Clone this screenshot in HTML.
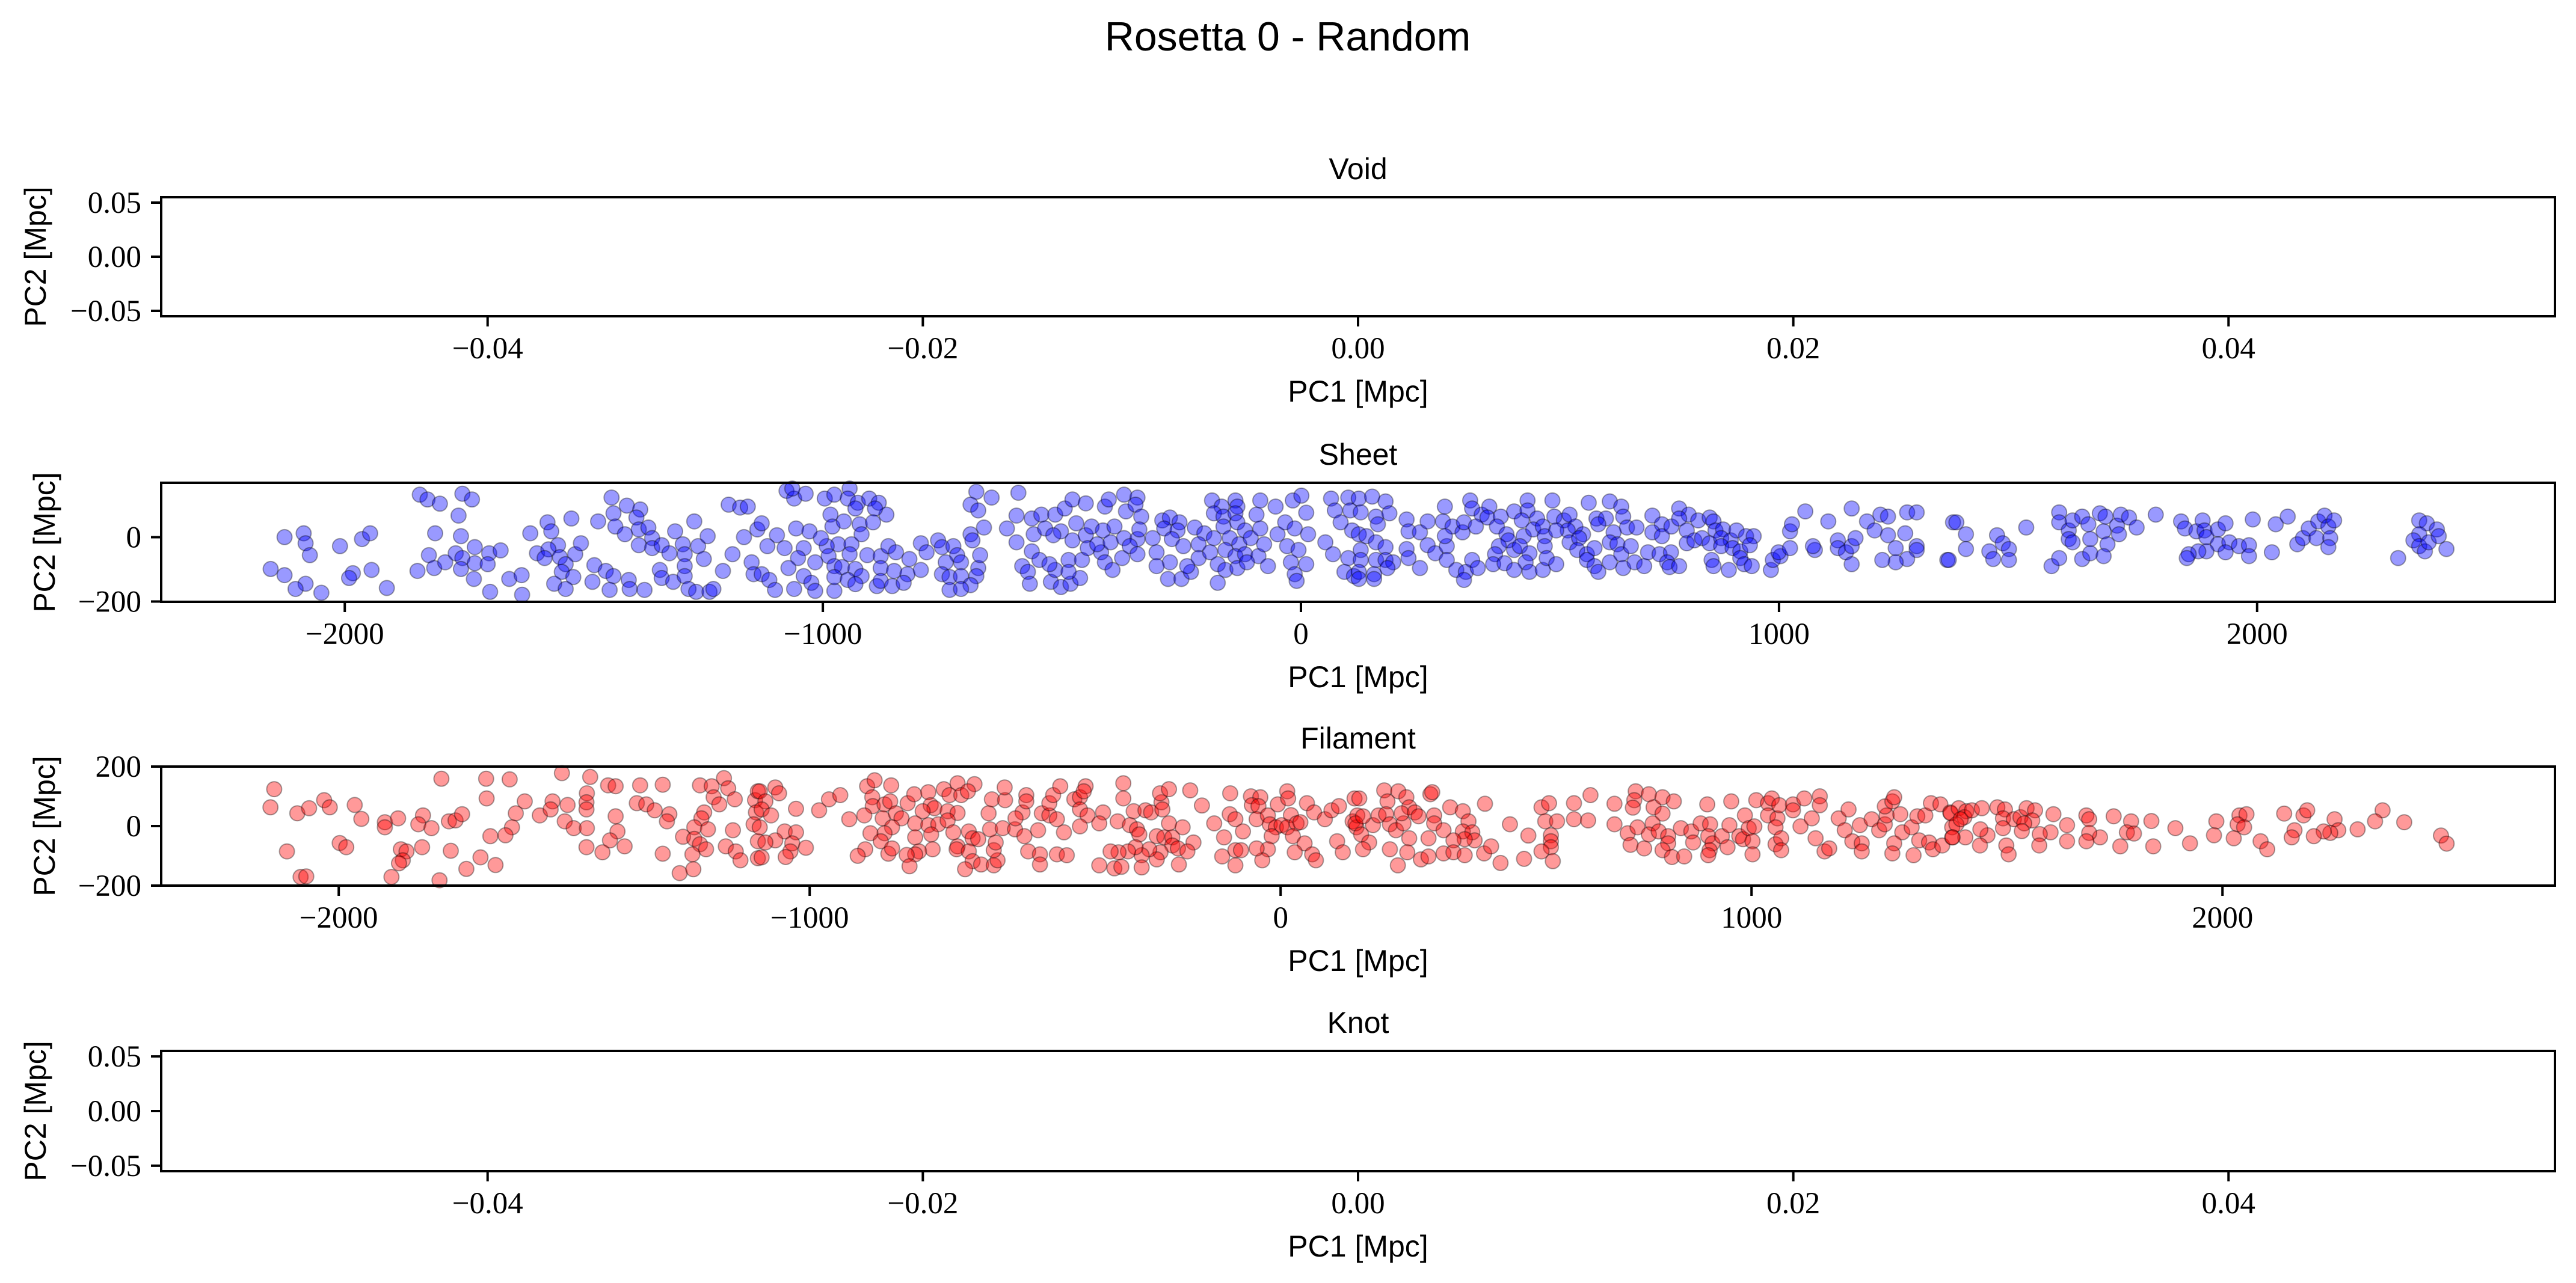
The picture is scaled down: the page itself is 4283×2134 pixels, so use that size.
<!DOCTYPE html>
<html><head><meta charset="utf-8"><style>
html,body{margin:0;padding:0;background:#fff;}
svg{display:block;}
.tick{font-family:"Liberation Serif","DejaVu Serif",serif;font-size:51px;fill:#000;}
.lab{font-family:"Liberation Sans","DejaVu Sans",sans-serif;font-size:50px;fill:#000;}
.ttl{font-family:"Liberation Sans","DejaVu Sans",sans-serif;font-size:50px;fill:#000;}
</style></head><body>
<svg id="fig" width="4283" height="2134" viewBox="0 0 4283 2134" xmlns="http://www.w3.org/2000/svg">
<rect width="4283" height="2134" fill="#fff"/>
<text x="2141" y="84" text-anchor="middle" font-family="Liberation Sans, DejaVu Sans, sans-serif" font-size="68">Rosetta 0 - Random</text>
</svg>
<script>
// ---- data ----
const sheetX = [-2126,-2086,-2082,-2073,-2155,-2126,-2082,-2103,-2049,-2010,-1964,-1947,-1983,-1991,-1944,-1912,-1843,-1827,-1801,-1754,-1734,-1762,-1811,-1757,-1824,-1848,-1813,-1790,-1768,-1754,-1728,-1698,-1674,-1728,-1701,-1757,-1730,-1656,-1630,-1696,-1629,-1612,-1576,-1568,-1526,-1470,-1554,-1598,-1574,-1582,-1550,-1518,-1506,-1538,-1546,-1522,-1562,-1538,-1478,-1454,-1438,-1482,-1446,-1406,-1404,-1373,-1442,-1410,-1382,-1390,-1438,-1434,-1414,-1385,-1365,-1357,-1385,-1357,-1337,-1321,-1309,-1269,-1293,-1289,-1261,-1241,-1249,-1289,-1341,-1337,-1313,-1289,-1281,-1265,-1237,-1229,-1209,-1197,-1173,-1157,-1189,-1165,-1137,-1149,-1145,
-1076,-1060,-1036,-1064,-996,-976,-944,-948,-927,-903,-883,-867,-891,-984,-932,-1128,-1096,-1116,-1056,-1028,-1080,-1040,-1052,-980,-956,-923,-895,-919,-968,-940,-992,-1004,-988,-944,-907,-879,-863,-847,-819,-1016,-1072,-976,-960,-932,-879,-851,-823,-795,-1128,-1112,-1100,-1060,-1040,-1024,-1016,-976,-976,-948,-919,-932,-887,-879,-855,-831,-795,-783,-759,-751,-727,-719,-711,-743,-751,-735,-711,-675,-679,-691,-735,-711,-671,-691,-687,-663,-679,-647,-691,-675,-591,-615,-595,-595,-563,-543,-559,-535,-563,-547,-583,-571,-567,-523,-502,-482,-462,-514,-486,-458,-486,-526,-514,-494,-478,-450,-470,-502,-518,-478,-450,-438,-446,-418,-426,-414,-390,-410,-402,-370,-342,-366,-346,-334,-410,-394,-374,-398,-370,-342,-338,-358,-342,-310,-302,-290,-274,-254,-286,-258,-270,-246,-274,-302,-278,-250,-230,-238,-222,-202,-182,-214,-214,-190,-186,-166,-137,-133,-182,-162,-137,-162,-133,-149,-129,-117,-105,-158,-137,-117,-89,-69,-174,-158,-133,-113,-174,-85,-53,-93,-77,-85,-49,-33,-17,1,11,-13,15,-29,-5,-21,11,-13,-9,51,63,99,71,103,83,107,67,99,91,111,
121,149,177,125,157,185,161,121,137,157,177,125,125,157,177,193,181,121,153,121,153,221,225,249,265,221,225,249,265,281,305,305,325,345,341,358,370,301,297,317,301,338,341,354,358,378,394,390,366,418,410,446,474,474,462,494,430,434,466,486,506,510,526,530,550,562,574,558,534,590,414,406,402,426,446,458,478,470,446,478,506,510,514,534,562,582,578,598,602,618,638,622,646,670,674,682,702,654,646,662,614,598,614,622,646,670,690,674,698,718,726,750,774,766,771,791,735,755,735,755,775,791,811,791,807,807,823,831,855,863,867,883,839,855,879,899,911,879,903,919,919,859,863,895,927,943,931,947,939,983,987,1003,999,1023,1023,1027,1055,1075,1071,1103,1123,1123,1140,1152,1160,1152,1152,1184,1200,1212,1228,1228,1244,1264,1268,1288,1288,1288,1268,1244,1216,1352,1364,
1371,1391,1391,1355,1440,1448,1456,1468,1481,1481,1517,1586,1586,1570,1586,1606,1606,1614,1614,1634,1647,1651,1634,1651,1671,1679,1683,1687,1679,1707,1715,1711,1732,1748,1788,1841,1849,1873,1886,1890,1894,1918,1934,1918,1942,1962,1983,1983,1934,1894,1877,1857,1853,1991,2031,2039,2064,2084,2096,2108,2124,2128,2141,2149,2161,2153,2149,2295,2339,2355,2339,2327,2339,2351,2359,2376,2380,2396];
const sheetY = [0,12,-19,-56,-99,-118,-145,-161,-173,-28,-6,12,-112,-127,-102,-158,132,117,104,135,117,67,12,3,-56,-105,-96,-78,-50,-65,-31,-50,-41,-81,-84,-99,-130,-130,-118,-170,-179,12,46,18,58,49,-25,-50,-38,-65,-62,-53,-19,-84,-108,-124,-145,-161,-87,-105,-121,-139,-164,-133,-161,-164,123,98,86,61,74,33,9,24,30,-3,-25,-34,-25,-50,18,49,-22,-53,-28,3,-68,-90,-102,-127,-139,-121,-161,-170,-170,-161,-105,101,92,95,-53,0,24,-78,-115,
144,120,135,151,120,132,151,120,107,120,107,70,89,70,89,43,6,-28,27,18,-34,-34,-65,33,49,40,46,9,-22,-22,-28,-3,-59,-53,-56,-59,-28,-47,-68,-78,-96,-90,-93,-99,-96,-105,-115,-102,-115,-133,-164,-161,-121,-142,-167,-167,-124,-133,-121,-146,-152,-136,-152,-142,-19,-47,-10,-31,-28,-56,-78,-78,-115,-124,-121,-96,-121,-149,-164,-161,-56,9,-10,30,141,123,101,83,138,27,67,-16,58,70,9,27,-44,-71,-90,-108,-145,-139,-155,-145,-127,-102,-71,-71,-108,-84,70,89,117,105,43,18,6,-10,6,33,-34,-47,-22,21,33,95,117,132,123,80,101,64,-78,-102,-65,-16,-3,-6,24,-28,-53,-3,-47,52,61,46,27,21,-6,-28,-78,-90,-130,-130,-108,-90,30,12,-3,-22,-65,-47,114,95,114,95,74,64,74,33,46,-3,-22,21,-3,-40,-59,-53,-59,-90,-84,-102,-96,-78,-142,114,95,70,-22,27,9,46,114,129,76,27,9,-28,-40,-78,-84,-115,-136,-16,120,123,83,83,46,21,-53,-65,-108,-121,
120,126,111,77,64,74,40,9,3,-16,-31,-40,-71,-71,-71,-78,-96,-108,-115,-130,-130,55,18,15,49,-37,-65,-96,-25,-50,-28,-71,-102,-108,-133,-71,-96,95,49,33,3,15,46,114,89,70,95,61,33,64,33,80,114,83,52,58,9,-10,3,24,33,3,114,64,52,70,33,21,21,9,-28,-53,-84,-81,-40,-28,-50,-78,-102,-108,-102,-28,-65,-84,-16,-3,-40,-53,107,58,58,40,111,95,64,30,30,15,-16,-22,-34,-71,-90,-108,-78,-53,-28,-96,-78,-90,-47,-53,-47,-78,-93,-90,67,40,15,3,33,89,70,58,21,-19,-10,52,61,49,21,24,-3,-19,-3,-10,21,-28,-34,-44,-65,-71,-90,-102,-84,-90,3,3,-25,-102,-71,-59,-47,-34,18,40,80,-40,-28,49,-10,-34,-47,-28,-3,89,-84,49,21,70,64,6,-34,12,77,77,-28,-40,-68,-78,-71,-71,46,
46,9,-37,-71,-44,-68,6,-19,-37,-71,30,77,46,-90,-65,21,-6,-16,52,64,40,-6,-68,-50,74,18,64,-22,-59,36,70,9,61,30,70,49,27,18,52,21,0,24,43,-22,-16,-28,-25,-59,-47,-44,-44,-53,-65,55,-47,40,64,-22,-3,27,-3,49,67,33,52,-3,-31,-65,52,43,9,-10,-28,-44,-16,24,3,-37];
const filamentX = [-2137,-2145,-2088,-2063,-2031,-2019,-1966,-1952,-1902,-1902,-1874,-1821,-1831,-1803,-1766,-1752,-1738,-1782,-1687,-1637,-1526,-1466,-1686,-1605,-1624,-1632,-1646,-1678,-1573,-1546,-1550,-1514,-1473,-1474,-1474,-1520,-1501,-1473,-1428,-1412,-1360,-1312,-1412,-1408,-1424,-1393,-1474,-1440,-1367,-1347,-1329,-1298,-1303,-1233,-1208,-1182,-1173,-1204,-1192,-1159,-1224,-1230,-1245,-1216,-1269,-1245,-1233,-1220,-1249,-1163,-1178,-1157,-1147,-1276,-1247,-1312,-1116,-1110,-1114,-1119,-1110,-1110,-2110,-1998,-1984,-2081,-2069,-1888,-1868,-1856,-1864,-1872,-1823,-1786,-1762,-1729,-1699,-1667,
-1106,-1073,-1065,-1094,-1102,-1082,-1106,-1029,-980,-959,-935,-916,-1053,-1029,-1073,-1094,-1037,-1008,-1041,-1102,-1051,-878,-862,-827,-867,-866,-884,-841,-829,-845,-817,-805,-792,-778,-748,-715,-686,-650,-703,-678,-664,-743,-735,-760,-707,-686,-776,-748,-727,-707,-825,-841,-871,-849,-776,-742,-695,-662,-654,-642,-686,-688,-739,-768,-776,-794,-833,-825,-882,-898,-788,-662,-654,-670,-636,-609,-601,-609,-605,-617,-590,-620,-613,-585,-586,-564,-544,-548,-563,-540,-540,-536,-511,-511,-475,-454,-515,-507,-491,-475,-491,-483,-468,-438,-426,-414,-418,-426,-410,-377,-385,-426,-460,-334,-334,-346,-312,-287,-275,-320,-305,-300,-253,-251,-256,-237,-192,-167,-237,-208,-263,-247,-230,-230,-218,-185,-198,-216,-255,-263,-279,-295,-295,-308,-324,-344,-361,-353,-338,-385,-141,-120,-124,-107,-108,-96,-80,-96,-84,-96,-63,-43,-61,-47,-51,-27,-6,14,16,22,-23,-10,2,14,34,42,-19,-27,-39,-51,26,51,30,67,75,56,71,94,108,124,120,132,157,153,161,
167,220,250,227,267,273,318,322,163,159,196,175,208,224,232,245,261,257,285,293,326,326,346,360,387,399,387,407,412,391,367,314,273,171,188,175,232,269,298,314,346,367,391,432,447,249,467,434,487,526,517,554,570,562,587,574,574,574,554,578,623,623,653,658,709,709,737,743,754,751,748,758,772,782,792,811,811,835,790,782,803,823,823,811,831,857,850,872,876,906,892,912,908,917,911,908,937,949,957,953,986,974,982,994,1002,1006,1002,1010,1035,1043,1035,1055,1051,1059,1051,1063,1063,1088,1088,1104,1112,1128,1136,1145,1145,1155,1165,1185,1198,1206,1214,1230,1234,1234,1255,1271,1283,1287,1283,1299,1303,1316,1320,1303,1299,1340,1344,1352,1369,1356,1377,1385,1405,1381,1401,1422,1426,1426,
1423,1440,1456,1452,1435,1444,1468,1489,1522,1538,1534,1557,1571,1584,1602,1596,1579,1641,1670,1711,1717,1769,1806,1849,1900,1987,2036,2051,2032,2046,2131,2172,2180,2238,2340,2324,2386,2287,2246,2229,2215,2194,2153,2147,2464,2476,2081,2095,2024,1982,1931,1853,1783,1797,1812,1740,1717,1711,1670,1635,1612,1611,1574,1534,1501,1486,1485,1454,1427,1541,1546];
const filamentY = [124,63,43,60,87,63,71,24,13,-4,26,36,6,-7,16,19,40,159,159,157,178,165,93,83,43,-4,-31,-34,36,83,56,71,110,80,56,16,-7,-7,137,134,137,139,33,-18,-48,-68,-71,-88,77,73,53,40,16,137,134,161,127,97,73,90,46,26,-4,-11,-36,-43,-61,-78,-95,-14,-68,-85,-115,-158,-145,-93,87,117,46,6,-51,-108,-85,-57,-71,-171,-169,-171,-78,-85,-115,-125,-71,-182,-83,-144,-105,-131,
117,130,110,83,56,36,-4,58,53,90,104,23,-18,-21,-48,-55,-58,-73,-85,-105,-104,134,154,137,97,67,36,73,83,26,43,26,77,107,114,124,144,141,104,104,117,70,60,50,50,44,9,3,6,19,-4,-24,-24,-51,-38,-28,-21,-18,-41,-44,-68,-78,-78,-85,-95,-97,-93,-75,-78,-100,-135,-85,-118,-145,-129,-132,-115,-81,-55,-11,-7,43,90,87,130,-11,-34,46,26,104,83,-85,-95,-129,-95,-98,-14,43,36,23,77,104,134,90,97,134,117,56,36,46,9,-1,-21,144,93,16,50,53,46,3,-11,-28,80,56,110,124,120,69,9,-4,-34,-38,-38,-65,-75,-55,-85,-129,-88,-112,-78,-98,-139,-71,-85,-88,-85,-142,-137,-132,9,-38,-102,110,40,23,-18,-81,-81,-132,100,97,70,67,23,36,73,117,93,37,6,-4,3,-4,9,13,-34,-78,-115,-75,-34,-58,-88,-95,-115,77,46,23,53,67,-51,-88,93,16,-4,
93,120,117,83,97,63,107,114,36,9,3,33,36,40,6,-14,9,43,46,33,36,9,-14,63,50,16,-18,-21,-48,-44,-48,-41,-41,-28,-55,-78,-78,-88,-112,-102,-92,-88,-98,-92,-68,-132,-124,75,6,-32,-110,63,77,16,16,-31,-51,-71,-85,-118,77,23,19,104,75,6,-24,-63,117,87,62,-4,-75,107,63,42,97,83,9,-28,-18,-34,-58,-81,-104,-102,-7,-18,-55,73,9,6,-34,-58,-81,-98,-34,-71,83,3,36,-34,-44,-7,-51,-1,-95,87,77,93,36,26,-4,70,-61,-41,-81,73,53,-1,93,26,-41,100,70,-85,-75,26,-14,56,-51,3,-58,-85,23,-14,6,36,66,83,97,40,-21,-58,-92,-4,-98,33,36,-48,-55,-78,-65,77,73,46,-4,-38,
43,60,50,30,6,23,53,60,63,56,26,23,30,60,53,19,9,40,3,36,23,33,16,17,-7,16,36,40,6,-4,42,36,53,23,53,16,13,-11,-14,-23,-18,-34,-14,-38,-32,-59,-51,-78,-41,-31,-58,-68,-68,-21,-25,-38,-23,-51,-51,-21,-27,-65,-17,-7,-31,-11,-65,-38,-38,-65,-95];
// tick label arrays
const emptyXTicks = [-0.04,-0.02,0,0.02,0.04];
const emptyXLabels = ["\u22120.04","\u22120.02","0.00","0.02","0.04"];
const emptyYTicks = [0.05,0,-0.05];
const emptyYLabels = ["0.05","0.00","\u22120.05"];
const sheetXTicks = [-2000,-1000,0,1000,2000];
const sheetXLabels = ["\u22122000","\u22121000","0","1000","2000"];
const sheetYTicks = [0,-200];
const sheetYLabels = ["0","\u2212200"];
const filXTicks = [-2000,-1000,0,1000,2000];
const filXLabels = ["\u22122000","\u22121000","0","1000","2000"];
const filYTicks = [200,0,-200];
const filYLabels = ["200","0","\u2212200"];

const NS = "http://www.w3.org/2000/svg";
const svg = document.getElementById('fig');
const L = 268, R = 4248;
function mk(tag, attrs, parent) {
  const e = document.createElementNS(NS, tag);
  for (const k in attrs) e.setAttribute(k, attrs[k]);
  (parent || svg).appendChild(e);
  return e;
}
function panel(key, title, top, bot, xlim, ylim, xt, xl, yt, yl, xs, ys, color, ylabX) {
  const g = mk('g', {});
  
  
  const sx = v => L + (v - xlim[0]) / (xlim[1] - xlim[0]) * (R - L);
  const sy = v => bot - (v - ylim[0]) / (ylim[1] - ylim[0]) * (bot - top);
  const t = mk('text', {x: (L + R) / 2, y: top - 30, 'text-anchor': 'middle', class: 'ttl'}, g);
  t.textContent = title;
  
  
  const pts = mk('g', {}, g);
  
  
  for (let i = 0; i < xs.length; i++) {
    const c = mk('ellipse', {cx: sx(xs[i]).toFixed(1), cy: sy(ys[i]).toFixed(1), rx: 12.5, ry: 12.5,
      fill: color, 'fill-opacity': 0.4, stroke: '#000', 'stroke-opacity': 0.35, 'stroke-width': 2}, pts);
    
    
  }
  const fr = mk('rect', {x: L, y: top, width: R - L, height: bot - top, fill: 'none', stroke: '#000', 'stroke-width': 4}, g);
  
  
  for (let i = 0; i < xt.length; i++) {
    const x = sx(xt[i]);
    const tk = mk('line', {x1: x, x2: x, y1: bot, y2: bot + 17, stroke: '#000', 'stroke-width': 4}, g);
    
    
    const tl = mk('text', {x: x, y: bot + 70, 'text-anchor': 'middle', class: 'tick'}, g);
    tl.textContent = xl[i];
    
    
  }
  for (let i = 0; i < yt.length; i++) {
    const y = sy(yt[i]);
    const tk = mk('line', {x1: L - 17, x2: L, y1: y, y2: y, stroke: '#000', 'stroke-width': 4}, g);
    
    
    const tl = mk('text', {x: L - 33, y: y + 17, 'text-anchor': 'end', class: 'tick'}, g);
    tl.textContent = yl[i];
    
    
  }
  const xlb = mk('text', {x: (L + R) / 2, y: bot + 142, 'text-anchor': 'middle', class: 'lab'}, g);
  xlb.textContent = 'PC1 [Mpc]';
  
  
  const cy = (top + bot) / 2;
  const ylb = mk('text', {x: ylabX, y: cy, 'text-anchor': 'middle', class: 'lab', transform: 'rotate(-90 ' + ylabX + ' ' + cy + ')'}, g);
  ylb.textContent = 'PC2 [Mpc]';
  
  
}
panel('void', 'Void', 328, 526, [-0.055, 0.055], [-0.055, 0.055], emptyXTicks, emptyXLabels, emptyYTicks, emptyYLabels, [], [], '#00f', 76);
panel('sheet', 'Sheet', 803, 1001, [-2384, 2623], [-201, 169], sheetXTicks, sheetXLabels, sheetYTicks, sheetYLabels, sheetX, sheetY, '#00f', 91);
panel('filament', 'Filament', 1275, 1473, [-2377, 2706], [-200, 200], filXTicks, filXLabels, filYTicks, filYLabels, filamentX, filamentY, '#f00', 91);
panel('knot', 'Knot', 1748, 1948, [-0.055, 0.055], [-0.055, 0.055], emptyXTicks, emptyXLabels, emptyYTicks, emptyYLabels, [], [], '#00f', 76);
</script>
</body></html>
